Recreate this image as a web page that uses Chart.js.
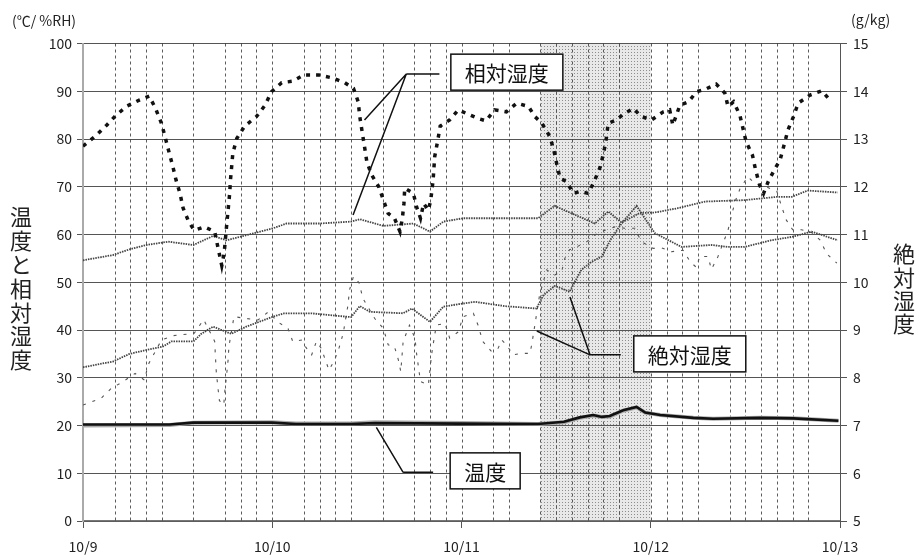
<!DOCTYPE html>
<html>
<head>
<meta charset="utf-8">
<script src="https://cdn.jsdelivr.net/npm/chart.js@4.4.0/dist/chart.umd.min.js"></script>
<style>
    body { margin: 0; background: #fff; }
    canvas { display: block; }
</style>
</head>
<body>
<canvas id="myChart" width="919" height="556"></canvas>
<script>
// x は 10/9 0:00 からの経過時間 (h)
const dayLabels = ['10/9', '10/10', '10/11', '10/12', '10/13'];

// 相対湿度 (太い点線) %RH
const rhOutHours = [0, 1.7, 3.0, 4.2, 5.6, 7.2, 8.4, 9.2, 9.95, 10.4, 10.9, 11.4, 11.8, 12.3, 12.7, 13.4, 14.1, 15.4, 16.7,
    17.1, 17.6, 17.9, 18.2, 18.4, 18.6, 18.7, 19.0, 19.5, 20.5, 22.0, 23.1, 23.9, 25.2, 26.6, 28.0, 29.9, 31.6, 33.2,
    34.3, 34.9, 35.1, 35.4, 35.7, 36.0, 36.6, 37.5, 38.1, 38.7, 39.5, 40.2, 40.5, 40.7, 40.8, 41.9, 42.3, 42.8, 43.2,
    43.8, 44.1, 44.4, 44.6, 45.0, 45.3, 46.5, 47.6, 49.1, 50.1, 51.1, 52.2, 53.7, 55.0, 56.5, 57.3, 58.2, 59.2, 59.7,
    60.1, 60.5, 61.3, 62.2, 63.0, 64.1, 64.9, 65.6, 66.1, 66.4, 66.6, 67.7, 68.5, 69.8, 70.8, 72.1, 73.6, 74.4, 74.8,
    75.7, 76.8, 77.8, 78.9, 80.3, 81.4, 81.8, 82.5, 83.3, 83.7, 84.1, 84.9, 85.3, 85.8, 86.3, 86.9, 87.8, 88.4, 88.9,
    89.4, 90.1, 90.7, 92.2, 93.7, 94.9];
const rhOut = [78.5, 80.8, 82.9, 85.0, 86.9, 88.2, 89.0, 86.4, 83.3, 80.5, 77.3, 74.2, 71.4, 68.6, 65.5, 62.7, 60.9, 61.6, 60.6,
    57.4, 53.5, 56.1, 61.6, 65.1, 68.6, 71.4, 77.0, 80.1, 82.7, 84.7, 87.1, 89.9, 91.8, 92.1, 93.4, 93.4, 92.8, 91.8,
    90.6, 87.8, 84.7, 81.5, 78.4, 75.2, 72.5, 70.0, 67.2, 64.4, 63.4, 60.6, 63.4, 66.5, 69.7, 68.6, 65.8, 63.4, 66.5,
    65.1, 67.2, 71.4, 76.3, 79.8, 82.7, 84.0, 86.1, 85.0, 84.3, 83.8, 86.1, 85.7, 87.5, 86.8, 84.7, 83.3, 80.5, 77.7,
    74.6, 71.8, 71.1, 68.6, 69.0, 68.6, 71.4, 74.2, 77.7, 80.5, 83.3, 84.0, 85.2, 86.4, 84.7, 84.0, 85.7, 86.1, 82.9,
    87.1, 87.8, 89.9, 90.4, 91.5, 89.6, 86.8, 87.8, 85.0, 82.2, 79.4, 76.6, 73.5, 70.4, 68.6, 71.1, 73.9, 75.6, 78.7,
    81.9, 84.7, 87.5, 89.2, 90.1, 87.8];

// 相対湿度 (細線) %RH
const rhInHours = [0, 3.8, 5.9, 8.0, 10.8, 14.0, 16.5, 18.2, 19.9, 24.1, 25.8, 30.0, 34.0, 35.1, 38.1, 41.9, 44.0, 45.7,
    48.2, 51.3, 57.7, 59.8, 64.9, 66.6, 68.3, 70.6, 72.5, 75.4, 78.9, 83.9, 88.1, 89.9, 91.9, 95.7];
const rhIn = [54.6, 55.7, 56.9, 57.8, 58.5, 57.8, 59.7, 58.8, 59.5, 61.3, 62.3, 62.3, 62.7, 63.2, 61.8, 62.3, 60.6, 62.7,
    63.4, 63.4, 63.4, 66.0, 62.3, 64.8, 62.5, 64.5, 64.6, 65.5, 66.9, 67.2, 67.9, 67.9, 69.2, 68.8];

// 絶対湿度 (細線) g/kg
const ahInHours = [0, 3.8, 5.9, 8.0, 10.1, 11.2, 14.0, 15.0, 16.5, 18.8, 20.7, 24.1, 25.5, 28.9, 31.4, 34.0, 35.1, 36.4,
    40.6, 41.7, 44.0, 45.7, 47.6, 49.7, 53.5, 57.5, 58.4, 59.8, 60.7, 61.7, 63.2, 64.5, 65.8, 67.0, 68.3, 70.2, 72.5,
    75.9, 79.7, 81.8, 83.9, 87.3, 89.9, 92.4, 95.7];
const ahIn = [8.22, 8.34, 8.50, 8.58, 8.65, 8.76, 8.76, 8.92, 9.07, 8.92, 9.07, 9.28, 9.35, 9.35, 9.31, 9.27, 9.50, 9.38,
    9.35, 9.45, 9.17, 9.49, 9.54, 9.59, 9.50, 9.45, 9.73, 9.92, 9.87, 9.80, 10.26, 10.43, 10.54, 10.92, 11.23, 11.60, 11.03,
    10.74, 10.78, 10.74, 10.74, 10.88, 10.95, 11.06, 10.88];

// 絶対湿度 (細い破線) g/kg
const ahOutHours = [0, 2.3, 3.6, 5.1, 6.6, 7.8, 8.25, 9.1, 9.95, 11.4, 14.1, 15.3, 16.7, 16.8, 16.9, 17.1, 17.3, 17.85,
    18.0, 18.2, 18.4, 18.5, 19.15, 20.7, 22.2, 23.5, 24.7, 26.0, 26.6, 27.7, 28.25, 29.0, 29.6, 30.2, 31.2, 31.9, 32.5,
    33.0, 33.6, 33.8, 34.3, 35.0, 35.5, 37.0, 38.1, 38.7, 39.5, 40.0, 40.3, 40.6, 41.4, 42.1, 42.3, 42.8, 43.8, 44.2,
    44.5, 44.8, 45.9, 46.5, 47.6, 48.2, 49.5, 50.1, 50.7, 51.8, 52.65, 53.1, 53.7, 54.55, 55.6, 56.7, 57.0, 57.3, 57.9,
    58.8, 59.8, 60.7, 61.1, 61.7, 62.6, 63.9, 64.9, 66.2, 67.45, 68.7, 70.0, 70.8, 72.3, 73.4, 74.6, 76.1, 77.0, 77.8,
    78.2, 79.25, 79.7, 80.5, 81.8, 82.2, 82.7, 83.3, 84.3, 85.2, 86.1, 88.0, 88.6, 89.2, 90.0, 91.1, 92.4, 93.5, 94.3, 95.6];
const ahOut = [7.43, 7.57, 7.78, 7.92, 8.09, 7.95, 8.27, 8.53, 8.79, 8.88, 8.93, 9.22, 8.76, 8.43, 8.13, 7.81, 7.52, 7.43,
    7.74, 8.04, 8.37, 8.65, 9.28, 9.24, 9.21, 9.38, 9.17, 9.03, 8.76, 8.79, 8.64, 8.48, 8.76, 8.62, 8.16, 8.37, 8.64,
    8.93, 9.52, 9.84, 10.12, 9.99, 9.66, 9.24, 9.03, 8.69, 8.65, 8.37, 8.13, 8.76, 9.10, 8.83, 8.51, 7.92, 7.85, 8.48,
    8.79, 9.10, 9.14, 8.83, 8.96, 9.28, 9.35, 9.10, 8.76, 8.55, 8.62, 8.79, 8.69, 8.48, 8.51, 8.51, 8.79, 9.10, 9.73,
    10.26, 10.15, 10.22, 10.50, 10.68, 10.74, 10.85, 10.99, 11.09, 11.16, 11.13, 11.13, 10.85, 10.71, 10.72, 10.64, 10.67,
    10.43, 10.31, 10.54, 10.54, 10.27, 10.53, 11.09, 11.37, 11.69, 11.95, 12.21, 12.07, 12.04, 11.90, 11.58, 11.30, 11.10,
    11.10, 11.04, 10.88, 10.60, 10.40];

// 温度 ℃
const tempHours = [0, 11, 14, 24, 27, 34, 37, 48, 57.7, 61, 63, 64.7, 65.8, 66.8, 68.5, 70.2, 71.3, 73.2, 77.4, 79.9, 85.9, 90.1, 95.8];
const temp = [20.2, 20.2, 20.6, 20.6, 20.3, 20.3, 20.5, 20.4, 20.3, 20.8, 21.7, 22.2, 21.8, 22.0, 23.2, 23.9, 22.7, 22.2, 21.6, 21.4, 21.6, 21.5, 21.0];
const temp2 = [20.0, 20.1, 20.6, 20.7, 20.4, 20.4, 20.7, 20.5, 20.3, 20.7, 21.6, 22.1, 21.8, 21.9, 23.1, 23.8, 22.7, 22.2, 21.6, 21.4, 21.6, 21.5, 21.0];

// 縦の破線 (h)
const markHours = [4, 6, 8, 10, 14, 18, 20, 22, 24, 28, 30, 32, 34, 38, 42, 44, 46, 48, 52, 54, 58, 60, 62, 64, 66, 68,
    72, 74, 76, 78, 82, 84, 86, 88, 90, 92];
// 網掛け範囲 (h)
const shadeHours = [58, 72];

// 引き出し線付きラベル
const callouts = [
    { text: '相対湿度', box: [53.75, 94.0], elbow: [41.0, 93.6], end: [45.2, 93.6], tips: [[35.7, 84.0], [34.25, 64.1]] },
    { text: '絶対湿度', box: [76.95, 35.0], elbow: [64.3, 34.8], end: [68.2, 34.8], tips: [[57.55, 39.8], [61.75, 46.9]] },
    { text: '温度', box: [51.0, 10.5], elbow: [40.6, 10.2], end: [44.4, 10.2], tips: [[37.2, 19.6]] },
];

function toPoints(xs, ys) {
    return xs.map(function (x, i) { return { x: x, y: ys[i] }; });
}

const FONT = '"Noto Sans CJK JP", "Noto Sans", sans-serif';
Chart.defaults.font.family = FONT;
Chart.defaults.color = '#222';

function makeStipple(ctx) {
    let c = document.createElement('canvas');
    c.width = 3;
    c.height = 3;
    let p = c.getContext('2d');
    p.fillStyle = '#e8e8e8';
    p.fillRect(0, 0, 3, 3);
    p.fillStyle = '#8c8c8c';
    p.fillRect(1, 1, 1, 1);
    return ctx.createPattern(c, 'repeat');
}

const shadePlugin = {
    id: 'shade',
    beforeDraw(chart) {
        const { ctx, chartArea, scales } = chart;
        let x0 = scales.x.getPixelForValue(shadeHours[0]);
        let x1 = scales.x.getPixelForValue(shadeHours[1]);
        ctx.save();
        ctx.fillStyle = makeStipple(ctx);
        ctx.fillRect(x0, chartArea.top, x1 - x0, chartArea.bottom - chartArea.top);
        ctx.restore();
    },
    beforeDatasetsDraw(chart) {
        const { ctx, chartArea, scales } = chart;
        ctx.save();
        ctx.strokeStyle = '#333';
        ctx.lineWidth = 0.8;
        ctx.setLineDash([3, 3]);
        markHours.forEach(function (h) {
            let x = Math.round(scales.x.getPixelForValue(h)) + 0.5;
            ctx.beginPath();
            ctx.moveTo(x, chartArea.top);
            ctx.lineTo(x, chartArea.bottom);
            ctx.stroke();
        });
        ctx.restore();
    },
};

const textPlugin = {
    id: 'texts',
    afterDatasetsDraw(chart) {
        const { ctx, scales } = chart;
        const px = function (p) { return [scales.x.getPixelForValue(p[0]), scales.y.getPixelForValue(p[1])]; };
        ctx.save();
        ctx.strokeStyle = '#111';
        ctx.lineWidth = 1.5;
        ctx.setLineDash([]);
        callouts.forEach(function (c) {
            let e = px(c.elbow);
            let en = px(c.end);
            ctx.beginPath();
            ctx.moveTo(en[0], en[1]);
            ctx.lineTo(e[0], e[1]);
            c.tips.forEach(function (t) {
                let tp = px(t);
                ctx.moveTo(e[0], e[1]);
                ctx.lineTo(tp[0], tp[1]);
            });
            ctx.stroke();

            ctx.font = '21px ' + FONT;
            let b = px(c.box);
            let w = ctx.measureText(c.text).width + 28;
            let hgt = 36;
            ctx.fillStyle = '#fff';
            ctx.fillRect(b[0] - w / 2, b[1] - hgt / 2, w, hgt);
            ctx.strokeRect(b[0] - w / 2, b[1] - hgt / 2, w, hgt);
            ctx.fillStyle = '#111';
            ctx.textAlign = 'center';
            ctx.textBaseline = 'middle';
            ctx.fillText(c.text, b[0], b[1] + 1);
        });
        ctx.restore();
    },
    afterDraw(chart) {
        const { ctx } = chart;
        ctx.save();
        ctx.fillStyle = '#222';
        ctx.textBaseline = 'middle';
        ctx.font = '14px ' + FONT;
        ctx.textAlign = 'left';
        ctx.fillText('(℃/ %RH)', 12, 21);
        ctx.fillText('(g/kg)', 851, 20);

        ctx.font = '22px ' + FONT;
        ctx.textAlign = 'center';
        Array.from('温度と相対湿度').forEach(function (ch, i) {
            ctx.fillText(ch, 21, 217 + i * 23.8);
        });
        Array.from('絶対湿度').forEach(function (ch, i) {
            ctx.fillText(ch, 904, 254 + i * 23.2);
        });
        ctx.restore();
    },
};

const ctx = document.getElementById('myChart').getContext('2d');
window.myChart = new Chart(ctx, {
    type: 'line',
    data: {
        datasets: [
            {
                label: '相対湿度',
                data: toPoints(rhOutHours, rhOut),
                yAxisID: 'y',
                borderColor: '#111',
                borderWidth: 3.5,
                borderDash: [4, 6],
                order: 1,
            },
            {
                label: '相対湿度(細)',
                data: toPoints(rhInHours, rhIn),
                yAxisID: 'y',
                borderColor: '#444',
                borderWidth: 1.8,
                borderDash: [1.5, 1],
                order: 2,
            },
            {
                label: '絶対湿度(細)',
                data: toPoints(ahInHours, ahIn),
                yAxisID: 'y2',
                borderColor: '#444',
                borderWidth: 1.8,
                borderDash: [1.5, 1],
                order: 3,
            },
            {
                label: '絶対湿度(破線)',
                data: toPoints(ahOutHours, ahOut),
                yAxisID: 'y2',
                borderColor: '#555',
                borderWidth: 1.1,
                borderDash: [3, 7],
                order: 4,
            },
            {
                label: '温度',
                data: toPoints(tempHours, temp),
                yAxisID: 'y',
                borderColor: '#111',
                borderWidth: 2.6,
                order: 5,
            },
            {
                label: '温度2',
                data: toPoints(tempHours, temp2),
                yAxisID: 'y',
                borderColor: '#aaa',
                borderWidth: 4,
                order: 6,
            },
        ],
    },
    options: {
        responsive: false,
        animation: false,
        events: [],
        layout: { padding: { top: 43.5, left: 0, right: 0, bottom: 0 } },
        elements: { point: { radius: 0 }, line: { tension: 0, fill: false } },
        plugins: { legend: { display: false }, tooltip: { enabled: false } },
        scales: {
            x: {
                type: 'linear',
                min: 0,
                max: 96,
                afterBuildTicks: function (scale) {
                    scale.ticks = dayLabels.map(function (_, i) { return { value: i * 24 }; });
                },
                afterFit: function (scale) { scale.height = 35; },
                ticks: {
                    padding: 10,
                    font: { size: 14 },
                    color: '#222',
                    maxRotation: 0,
                    callback: function (v) { return dayLabels[Math.round(v / 24)]; },
                },
                grid: { drawOnChartArea: false, drawTicks: true, tickLength: 7, color: '#555' },
                border: { display: true, color: '#777', width: 1.2 },
            },
            y: {
                position: 'left',
                min: 0,
                max: 100,
                afterFit: function (scale) { scale.width = 83; },
                ticks: { stepSize: 10, padding: 5, font: { size: 14 }, color: '#222' },
                grid: { color: '#555', lineWidth: 1, tickLength: 6 },
                border: { display: true, color: '#aaa', width: 2 },
            },
            y2: {
                position: 'right',
                min: 5,
                max: 15,
                afterFit: function (scale) { scale.width = 79; },
                ticks: { stepSize: 1, padding: 6, font: { size: 14 }, color: '#222' },
                grid: { drawOnChartArea: false, tickLength: 7, color: '#555' },
                border: { display: true, color: '#555', width: 1 },
            },
        },
    },
    plugins: [shadePlugin, textPlugin],
});
</script>
</body>
</html>
